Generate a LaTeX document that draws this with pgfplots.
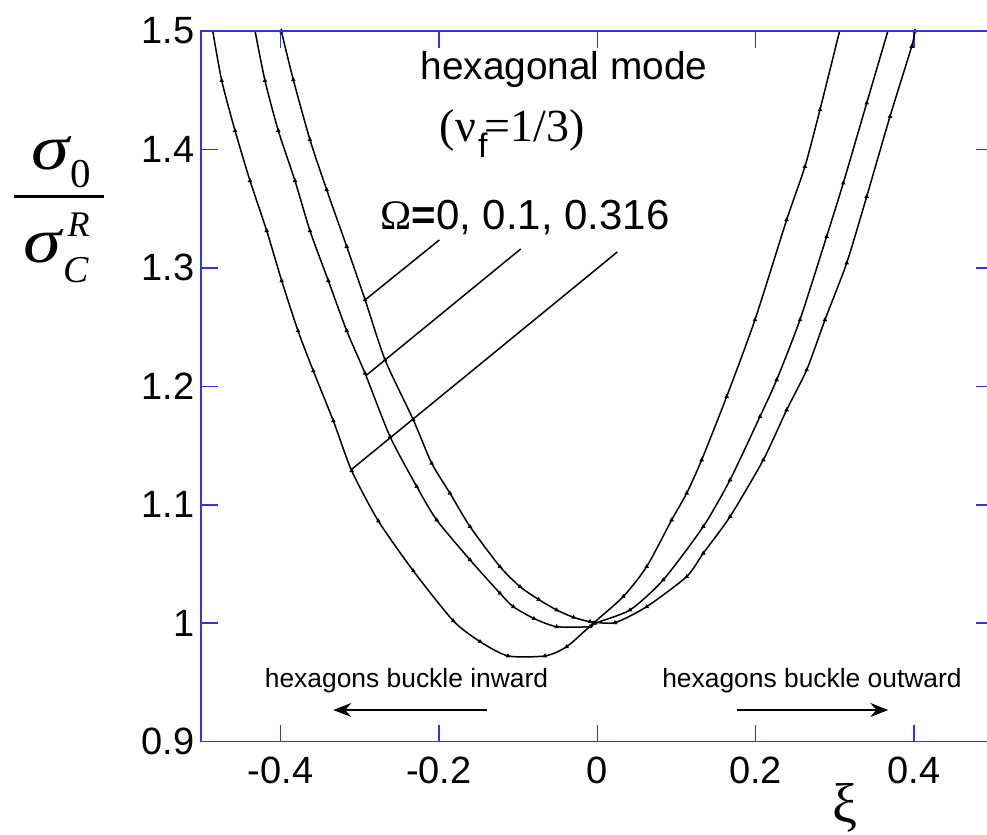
\documentclass[border=0pt]{standalone}
\usepackage{fontspec}
\setmainfont{Liberation Sans}
\newfontfamily\gr{Liberation Serif}
\usepackage{graphicx}
\usepackage{pgfplots}
\pgfplotsset{compat=1.18}
\usetikzlibrary{arrows.meta}
\definecolor{axblue}{RGB}{51,51,238}

\pgfplotstableread{
x y
-0.3990 1.5000
-0.3838 1.4588
-0.3628 1.4082
-0.3417 1.3660
-0.3164 1.3181
-0.2932 1.2731
-0.2680 1.2224
-0.2323 1.1717
-0.2091 1.1351
-0.1860 1.1098
-0.1607 1.0816
-0.1229 1.0478
-0.0976 1.0309
-0.0740 1.0200
-0.0513 1.0112
-0.0300 1.0050
-0.0092 1.0014
0.0223 1.0005
0.0624 1.0140
0.1129 1.0394
0.1338 1.0591
0.1676 1.0900
0.2096 1.1379
0.2391 1.1801
0.2644 1.2139
0.2875 1.2562
0.3149 1.3041
0.3402 1.3603
0.3696 1.4279
0.3970 1.4870
0.4011 1.5000
}\curveA

\pgfplotstableread{
x y
-0.4322 1.5003
-0.4196 1.4581
-0.4028 1.4159
-0.3817 1.3736
-0.3628 1.3314
-0.3396 1.2892
-0.3164 1.2469
-0.2933 1.2111
-0.2617 1.1576
-0.2280 1.1154
-0.2028 1.0872
-0.1607 1.0535
-0.1229 1.0253
-0.1061 1.0140
-0.0800 1.0040
-0.0513 0.9971
-0.0092 0.9971
-0.0029 1.0000
0.0413 1.0112
0.0833 1.0366
0.1338 1.0816
0.1676 1.1210
0.2054 1.1745
0.2265 1.2055
0.2559 1.2562
0.2896 1.3265
0.3106 1.3716
0.3402 1.4392
0.3674 1.5011
}\curveB

\pgfplotstableread{
x y
-0.4856 1.5003
-0.4742 1.4581
-0.4574 1.4159
-0.4385 1.3736
-0.4174 1.3314
-0.3985 1.2892
-0.3779 1.2469
-0.3586 1.2131
-0.3333 1.1709
-0.3101 1.1287
-0.2765 1.0864
-0.2323 1.0442
-0.1818 1.0020
-0.1481 0.9845
-0.1128 0.9724
-0.0660 0.9724
-0.0386 0.9802
-0.0051 1.0000
0.0328 1.0225
0.0624 1.0478
0.0939 1.0872
0.1129 1.1098
0.1318 1.1379
0.1634 1.1914
0.1991 1.2562
0.2391 1.3406
0.2622 1.3856
0.2812 1.4336
0.3064 1.5012
}\curveC

\begin{document}
\begin{tikzpicture}
\begin{axis}[
  scale only axis, width=396pt, height=355.35pt,
  xmin=-0.5, xmax=0.5, ymin=0.9, ymax=1.5,
  draw=axblue,
  xtick={-0.4,-0.2,0,0.2,0.4}, xticklabels={-0.4,-0.2,0,0.2,0.4},
  ytick={0.9,1,1.1,1.2,1.3,1.4,1.5}, yticklabels={0.9,1,1.1,1.2,1.3,1.4,1.5},
  tick align=inside, major tick length=8.5pt,
  tick style={draw=axblue, line width=0.75pt},
  xtick style={draw=axblue, line width=0.75pt},
  ytick style={draw=axblue, line width=0.75pt},
  every tick/.style={draw=axblue, line width=0.75pt},
  major tick style={draw=axblue, line width=0.75pt},
  axis line style={draw=axblue, line width=0.75pt},
  ticklabel style={font=\fontsize{19}{22}\selectfont, text=black},
  xticklabel style={yshift=-4pt},
]
\addplot[draw=black, line width=0.75pt, smooth, tension=0.4, mark=triangle*, mark size=0.6pt, mark options={solid, draw=black, fill=black}] table[x=x,y=y] {\curveA};
\addplot[draw=black, line width=0.75pt, smooth, tension=0.4, mark=triangle*, mark size=0.6pt, mark options={solid, draw=black, fill=black}] table[x=x,y=y] {\curveB};
\addplot[draw=black, line width=0.75pt, smooth, tension=0.4, mark=triangle*, mark size=0.6pt, mark options={solid, draw=black, fill=black}] table[x=x,y=y] {\curveC};
\end{axis}
\draw[axblue, line width=0.8pt] (0pt,0pt) rectangle (396pt,355.35pt);

% y label: sigma_0 / sigma_C^R
\node[anchor=base, inner sep=0pt] at (-75.65pt,285.85pt) {\gr\itshape\fontsize{32}{36}\selectfont\scalebox{1.2}[1]{σ}};
\node[anchor=base, inner sep=0pt] at (-60.15pt,276.85pt) {\gr\fontsize{20.5}{24}\selectfont 0};
\draw[line width=1.5pt] (-93.65pt,272.35pt) -- (-48.65pt,272.35pt);
\node[anchor=base, inner sep=0pt] at (-79.4pt,239.35pt) {\gr\itshape\fontsize{32}{36}\selectfont\scalebox{1.2}[1]{σ}};
\node[anchor=base, inner sep=0pt] at (-61.4pt,252.35pt) {\gr\itshape\fontsize{18}{21}\selectfont R};
\node[anchor=base, inner sep=0pt] at (-62.4pt,229.35pt) {\gr\itshape\fontsize{19}{22}\selectfont C};

\node[anchor=base] at (181.35pt,330.85pt) {\fontsize{19.4}{22}\selectfont hexagonal mode};
\node[anchor=base] at (155.5pt,300.1pt) {\gr\fontsize{23}{26}\selectfont (ν\kern1pt\raisebox{-8.25pt}{\normalfont\fontsize{17}{20}\selectfont f}\kern-1.5pt=1/3)};
\node[anchor=base west, inner sep=0pt] at (89.35pt,255.85pt) {{\gr\fontsize{21}{24}\selectfont Ω}{\fontsize{21}{24}\selectfont\textbf{=}0, 0.1, 0.316}};
\node[anchor=base] at (102.6pt,27pt) {\fontsize{13.2}{16}\selectfont hexagons buckle inward};
\node[anchor=base] at (305.35pt,27pt) {\fontsize{13.2}{16}\selectfont hexagons buckle outward};
\draw[line width=0.7pt, -{Stealth[length=9pt,width=7pt,inset=3pt]}] (142.7pt,15.85pt) -- (66pt,15.85pt);
\draw[line width=0.7pt, -{Stealth[length=9pt,width=7pt,inset=3pt]}] (267.7pt,15.85pt) -- (343.5pt,15.85pt);
\node at (321.85pt,-33.15pt) {\gr\fontsize{28}{30}\selectfont ξ};
\draw[line width=0.75pt] (119pt,250.85pt) -- (81.85pt,220.85pt);
\draw[line width=0.75pt] (159.7pt,246.35pt) -- (82.7pt,183.35pt);
\draw[line width=0.75pt] (208pt,244.85pt) -- (75.2pt,136.2pt);

\pgfresetboundingbox
\path[use as bounding box] (-100.65pt,-46.65pt) rectangle (392.85pt,370.85pt);
\end{tikzpicture}
\end{document}
